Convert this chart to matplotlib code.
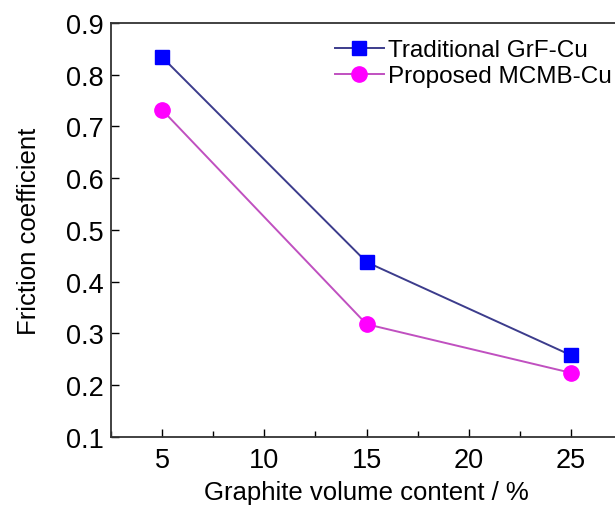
import matplotlib
matplotlib.use("Agg")
import matplotlib.pyplot as plt
from matplotlib.ticker import MultipleLocator

plt.rcParams['font.family'] = ['Liberation Sans', 'DejaVu Sans']

graphite = [5, 15, 25]
traditional = [0.834, 0.438, 0.258]
proposed = [0.732, 0.318, 0.224]
xticks = [5, 10, 15, 20, 25]
yticks = [0.1, 0.2, 0.3, 0.4, 0.5, 0.6, 0.7, 0.8, 0.9]

fig = plt.figure(figsize=(6.15, 5.06), dpi=100)
ax = fig.add_axes([0.1805, 0.1344, 0.831, 0.8182])

ax.plot(graphite, traditional, color='#3c3c8c', lw=1.4, marker='s', ms=10,
        mfc='#0000ff', mec='#0000ff', label='Traditional GrF-Cu')
ax.plot(graphite, proposed, color='#c050c0', lw=1.4, marker='o', ms=11,
        mfc='#ff00ff', mec='#ff00ff', label='Proposed MCMB-Cu')

ax.set_xlim(2.5, 27.5)
ax.set_ylim(0.1, 0.9)
ax.set_xticks(xticks)
ax.set_yticks(yticks)
ax.set_yticklabels([f"{v:.1f}" for v in yticks])
ax.xaxis.set_minor_locator(MultipleLocator(2.5))
ax.tick_params(axis='both', which='major', direction='in', length=6, width=1,
               labelsize=19.5, pad=5)
ax.tick_params(axis='x', which='minor', direction='in', length=4, width=1)
ax.tick_params(axis='x', which='major', pad=7)
for s in ax.spines.values():
    s.set_linewidth(1.3)
    s.set_color('#333333')

ax.set_xlabel('Graphite volume content / %', fontsize=18.5, labelpad=5)
ax.set_ylabel('Friction coefficient', fontsize=18.5, labelpad=18)

leg = ax.legend(loc='upper left', bbox_to_anchor=(0.4286, 0.973), frameon=False,
                fontsize=17.5, handlelength=2.0, handletextpad=0.2,
                labelspacing=0.17, borderaxespad=0.0, borderpad=0.2)

fig.savefig('out.png', dpi=100)
